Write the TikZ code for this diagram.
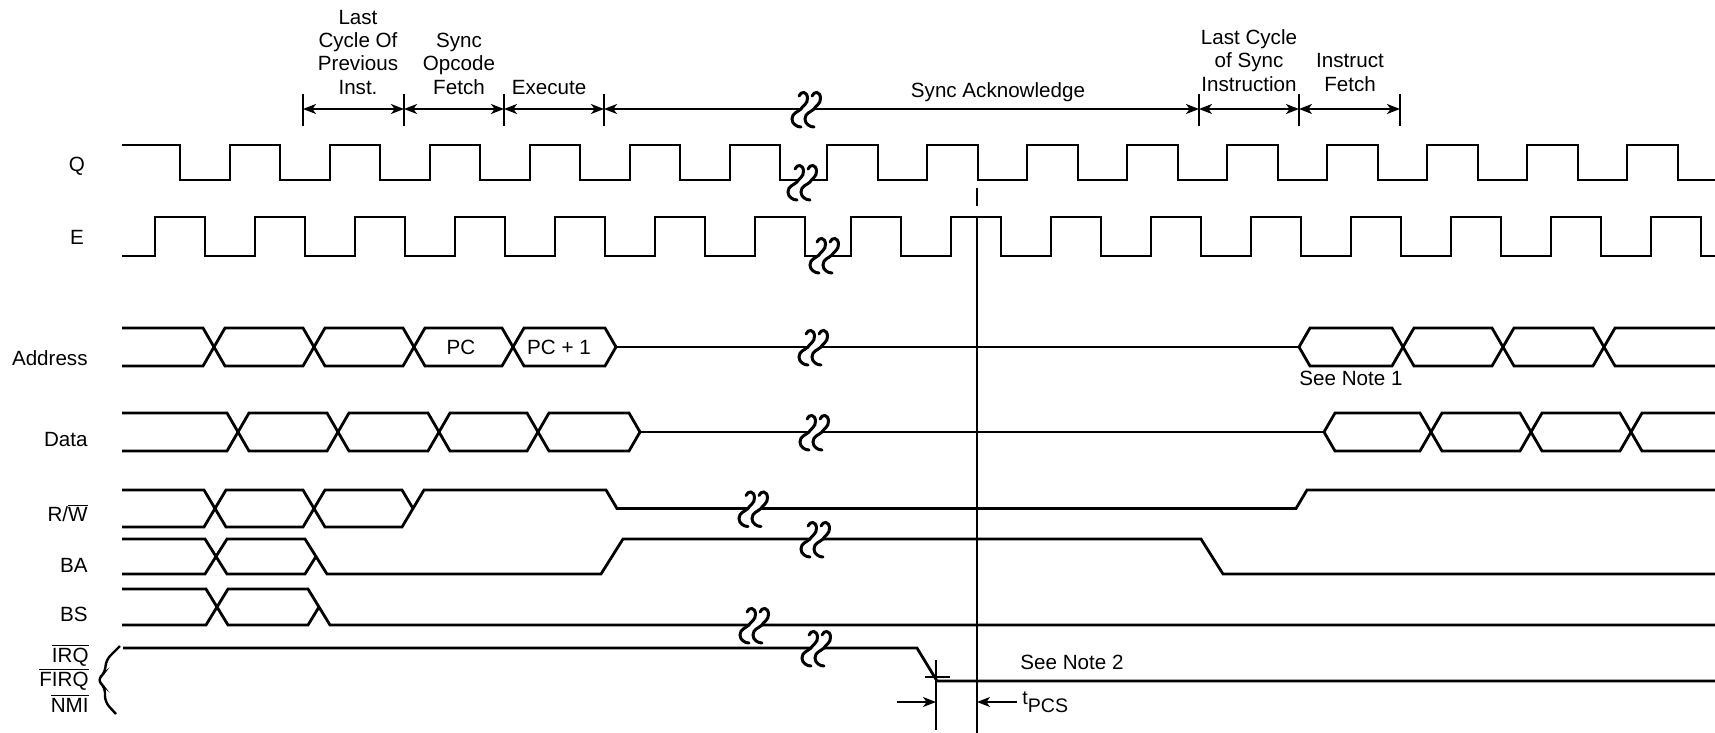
\documentclass[tikz,border=0pt]{standalone}
\usepackage{fontspec}
\setmainfont{Liberation Sans}
\usepackage{tikz}
\usetikzlibrary{arrows.meta}
\usetikzlibrary{positioning}
\newcommand{\busStart}[3]{\draw[sig] (122,#2) -- ({#1-11},#2) -- (#1,{(#2+#3)/2}) -- ({#1-11},#3) -- (122,#3);}
\newcommand{\busCell}[4]{\draw[sig] (#1,{(#3+#4)/2}) -- ({#1+11},#3) -- ({#2-11},#3) -- (#2,{(#3+#4)/2}) -- ({#2-11},#4) -- ({#1+11},#4) -- cycle;}
\newcommand{\busEnd}[3]{\draw[sig] (1715,#2) -- ({#1+11},#2) -- (#1,{(#2+#3)/2}) -- ({#1+11},#3) -- (1715,#3);}
\newcommand{\ovl}[1]{$\overline{\mbox{#1}}$}
\tikzset{
  brk/.pic={
    \fill[white] (-5,-3) rectangle (8,3);
    \foreach \dx in {-5,8}
      \draw[line width=1.5pt,line cap=round,shift={(\dx,0)}] (-2,-13) .. controls (0,-18) and (6,-18) .. (6.5,-11)
        .. controls (7,-5) and (1,-3) .. (0,0) .. controls (-3,3) and (-9,4) .. (-9,10)
        .. controls (-9,15) and (-4,18) .. (0,18);
  }
}

\begin{document}
\begin{tikzpicture}[x=0.5pt,y=-0.5pt,
  sig/.style={line width=1.4pt},
  thin/.style={line width=0.8pt},
  dim/.style={thin,<->},
  >={Stealth[length=6.5pt,width=5pt,inset=1.8pt]},
  lbl/.style={font=\fontsize{10.3}{11.7}\selectfont,inner sep=0pt}]
  \useasboundingbox (0,0) rectangle (1715,733);

  % cycle markers
  \foreach \x [count=\i] in {303,404,504,604,1199,1299,1400} {
    \coordinate (m\i) at (\x,109);
    \draw[thin] (\x,94) -- (\x,126);
  }
  \foreach \a/\b in {1/2,2/3,3/4,4/5,5/6,6/7} {
    \draw[dim] (m\a) -- (m\b);
  }
  \pic at (806,109) {brk};

  \node[lbl,align=center,anchor=south] (prev)  at (358,95) {Last\\Cycle Of\\Previous\\Inst.};
  \node[lbl,align=center,anchor=south] (sfetch) at (459,95) {Sync\\Opcode\\Fetch};
  \node[lbl,anchor=base] (exec) at (549,95) {Execute};
  \node[lbl,anchor=base] (sack) at (998,97.5) {Sync Acknowledge};
  \node[lbl,align=center,anchor=south] (lastsync) at (1249,92) {Last Cycle\\of Sync\\Instruction};
  \node[lbl,align=center,anchor=south] (ifetch) at (1350,92) {Instruct\\Fetch};

  % signal names
  \node[lbl] (nQ) at (77,166) {Q};
  \node[lbl] (nE) at (77,237) {E};
  \node[lbl,anchor=east] (nAddr) at (88,358) {Address};
  \node[lbl,anchor=east] (nData) at (88,440) {Data};
  \node[lbl,anchor=east] (nRW) at (88,513) {R/\ovl{W}};
  \node[lbl,anchor=east] (nBA) at (88,565) {BA};
  \node[lbl,anchor=east] (nBS) at (88,614) {BS};
  \node[lbl,anchor=east] (nIRQ) at (89,655) {\ovl{IRQ}};
  \node[lbl,anchor=east] (nFIRQ) at (89,679) {\ovl{FIRQ}};
  \node[lbl,anchor=east] (nNMI) at (89,703) {\ovl{NMI}};
  \draw[line width=1.2pt,rounded corners=3pt] (120,646) -- (106,660) -- (105,673) -- (97,680)
    -- (105,687) -- (105,702) -- (116,714);

  % Q
  \draw[sig] (122,145) -- (180,145) -- (180,180)
    \foreach \k in {0,...,5} { -- ({230+100*\k},180) -- ({230+100*\k},145) -- ({280+100*\k},145) -- ({280+100*\k},180) }
    \foreach \k in {0,...,8} { -- ({827+100*\k},180) -- ({827+100*\k},145) -- ({878+100*\k},145) -- ({878+100*\k},180) }
    -- (1715,180);
  \pic at (802,182) {brk};

  % E
  \draw[sig] (122,256)
    \foreach \k in {0,...,6} { -- ({155+100*\k},256) -- ({155+100*\k},217) -- ({205+100*\k},217) -- ({205+100*\k},256) }
    \foreach \k in {0,...,8} { -- ({851+100*\k},256) -- ({851+100*\k},217) -- ({901+100*\k},217) -- ({901+100*\k},256) }
    -- (1715,256);
  \pic at (824,255) {brk};

  % Address
  \busStart{214}{328}{366}
  \foreach \a/\b in {214/314,314/414,414/513,513/616} {
    \busCell{\a}{\b}{328}{366}
  }
  \draw[sig] (616,347) -- (1299,347);
  \foreach \a/\b in {1299/1403,1403/1503,1503/1604} {
    \busCell{\a}{\b}{328}{366}
  }
  \busEnd{1604}{328}{366}
  \pic at (813,347) {brk};
  \node[lbl] (pc) at (461,347) {PC};
  \node[lbl] (pcone) at (559,347) {PC + 1};
  \node[lbl] (note1) at (1351,378) {See Note 1};

  % Data
  \busStart{238}{413}{451}
  \foreach \a/\b in {238/338,338/439,439/538,538/640} {
    \busCell{\a}{\b}{413}{451}
  }
  \draw[sig] (640,432) -- (1324,432);
  \foreach \a/\b in {1324/1431,1431/1531,1531/1631} {
    \busCell{\a}{\b}{413}{451}
  }
  \busEnd{1631}{413}{451}
  \pic at (814,432) {brk};

  % R/W
  \busStart{215}{490}{527}
  \busCell{215}{314}{490}{527}
  \draw[sig] (314,508.5) -- (325,490) -- (402,490) -- (413,508.5);
  \draw[sig] (314,508.5) -- (325,527) -- (402,527) -- (424,490) -- (606,490) -- (617,508.5)
    -- (1296,508.5) -- (1307,490) -- (1715,490);
  \pic at (753,508.5) {brk};

  % BA
  \busStart{216}{539}{574}
  \draw[sig] (216,556.5) -- (227,539) -- (305,539) -- (327,574) -- (601,574) -- (623,539)
    -- (1201,539) -- (1223,574) -- (1715,574);
  \draw[sig] (216,556.5) -- (227,574) -- (305,574) -- (316,556.5);
  \pic at (815,539) {brk};

  % BS
  \busStart{217}{589}{625}
  \draw[sig] (217,607) -- (228,589) -- (308,589) -- (330,625) -- (1715,625);
  \draw[sig] (217,607) -- (228,625) -- (308,625) -- (319,607);
  \pic at (754,625) {brk};

  % IRQ FIRQ NMI
  \draw[sig] (123,648) -- (917,648) -- (937,681) -- (1715,681);
  \pic at (816,648) {brk};
  \node[lbl] (note2) at (1072,662) {See Note 2};

  % reference line and tPCS
  \coordinate (vtop) at (977,217);
  \coordinate (vbot) at (977,733);
  \draw[thin] (977,188) -- (977,206);
  \draw[thin] (vtop) -- (vbot);
  \coordinate (cx) at (936,702);
  \coordinate (vx) at (977,702);
  \draw[thin] (936,660) -- (936,730);
  \draw[thin] (925,677) -- (950,677);
  \draw[thin,->] (897,702) -- (cx);
  \draw[thin,->] (1017,702) -- (vx);
  \node[lbl,anchor=base west,font=\fontsize{9.8}{11}\selectfont] (tpcs) at (1022,712) {\raisebox{4pt}{t}PCS};
\end{tikzpicture}
\end{document}
